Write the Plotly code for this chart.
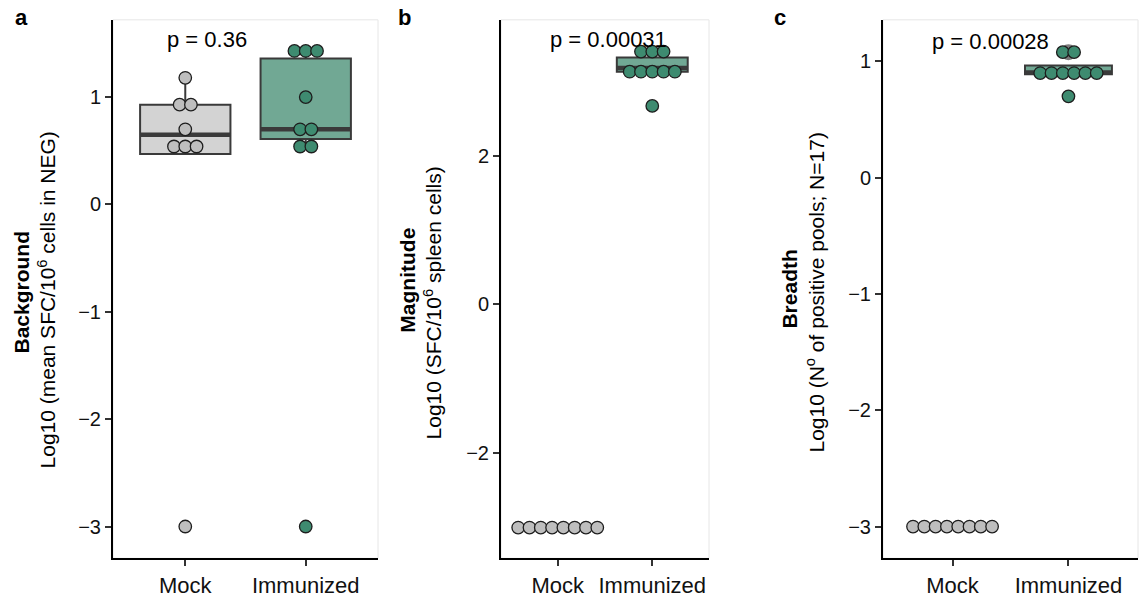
import plotly.graph_objects as go

W, H = 1139, 598
FONT = "Liberation Sans, Arial, Helvetica, sans-serif"

# ---------------- data ----------------
categories = ["Mock", "Immunized"]
cat_pos = [1, 2]

# Panel a: Background
a_mock = [1.18, 0.93, 0.93, 0.70, 0.54, 0.54, 0.54, -3.0]
a_imm = [1.43, 1.43, 1.43, 1.00, 0.70, 0.70, 0.54, 0.54, -3.0]
a_q1 = [0.47, 0.61]
a_med = [0.65, 0.70]
a_q3 = [0.93, 1.36]
a_lo = [0.47, 0.54]
a_hi = [1.18, 1.43]
a_out = [[], []]
a_p = "p = 0.36"

# Panel b: Magnitude
b_mock = [-3.0, -3.0, -3.0, -3.0, -3.0, -3.0, -3.0, -3.0]
b_imm = [3.40, 3.40, 3.40, 3.13, 3.13, 3.13, 3.13, 3.13, 2.67]
b_q1 = [-3.0, 3.13]
b_med = [-3.0, 3.18]
b_q3 = [-3.0, 3.32]
b_lo = [-3.0, 3.13]
b_hi = [-3.0, 3.40]
b_out = [[], []]
b_p = "p = 0.00031"

# Panel c: Breadth
c_mock = [-3.0, -3.0, -3.0, -3.0, -3.0, -3.0, -3.0, -3.0]
c_imm = [1.08, 1.08, 0.90, 0.90, 0.90, 0.90, 0.90, 0.90, 0.70]
c_q1 = [-3.0, 0.89]
c_med = [-3.0, 0.905]
c_q3 = [-3.0, 0.965]
c_lo = [-3.0, 0.89]
c_hi = [-3.0, 0.965]
c_out = [[], [1.08]]
c_p = "p = 0.00028"

y_ticks_a = [-3, -2, -1, 0, 1]
y_ticks_b = [-2, 0, 2]
y_ticks_c = [-3, -2, -1, 0, 1]

# ---------------- style ----------------
DOT_FILL = ["#BEBEBE", "#3E8B70"]
BOX_FILL = ["#D3D3D3", "#71A894"]
EDGE = "#3A3A3A"
BOX_W = 0.75
DOT_STEP_PX = 11.3
XR = [0.4, 2.6]
Y_TOP_PX, Y_BOT_PX = 20, 563
ydom = [1 - Y_BOT_PX / H, 1 - Y_TOP_PX / H]

panels = [
    dict(mock=a_mock, imm=a_imm, q1=a_q1, med=a_med, q3=a_q3, lo=a_lo, hi=a_hi, out=a_out,
         p=a_p, x0=113, x1=378, yr=[-3.296, 1.72], ticks=y_ticks_a, letter="a", lx=13,
         t1="Background", t2="Log10 (mean SFC/10<sup>6</sup> cells in NEG)",
         t1x=22, t1y=295, t2x=47, t2y=303, px=165, py=40),
    dict(mock=b_mock, imm=b_imm, q1=b_q1, med=b_med, q3=b_q3, lo=b_lo, hi=b_hi, out=b_out,
         p=b_p, x0=501, x1=709, yr=[-3.413, 3.827], ticks=y_ticks_b, letter="b", lx=396,
         t1="Magnitude", t2="Log10 (SFC/10<sup>6</sup> spleen cells)",
         t1x=408, t1y=283, t2x=433, t2y=306, px=548, py=40),
    dict(mock=c_mock, imm=c_imm, q1=c_q1, med=c_med, q3=c_q3, lo=c_lo, hi=c_hi, out=c_out,
         p=c_p, x0=883, x1=1138, yr=[-3.273, 1.358], ticks=y_ticks_c, letter="c", lx=772,
         t1="Breadth", t2="Log10 (N<sup>o</sup> of positive pools; N=17)",
         t1x=790, t1y=292, t2x=815, t2y=295, px=930, py=42),
]


def stack(values, center, step):
    xs, ys = [], []
    seen = []
    for v in values:
        if v not in seen:
            seen.append(v)
    for v in seen:
        n = values.count(v)
        for i in range(n):
            xs.append(center + (i - (n - 1) / 2) * step)
            ys.append(v)
    return xs, ys


fig = go.Figure()
annotations = []
shapes = []

for k, pn in enumerate(panels):
    sfx = "" if k == 0 else str(k + 1)
    xa, ya = "x" + sfx, "y" + sfx
    ppu = (pn["x1"] - pn["x0"]) / (XR[1] - XR[0])
    step = DOT_STEP_PX / ppu
    for j, c in enumerate(cat_pos):
        fig.add_trace(go.Box(
            x=[c], q1=[pn["q1"][j]], median=[pn["med"][j]], q3=[pn["q3"][j]],
            lowerfence=[pn["lo"][j]], upperfence=[pn["hi"][j]],
            width=BOX_W, whiskerwidth=0, boxpoints=False,
            fillcolor=BOX_FILL[j], line=dict(color=EDGE, width=2),
            xaxis=xa, yaxis=ya, showlegend=False, hoverinfo="skip"))
        fig.add_trace(go.Scatter(
            x=[c - BOX_W / 2, c + BOX_W / 2], y=[pn["med"][j]] * 2, mode="lines",
            line=dict(color=EDGE, width=4.5), xaxis=xa, yaxis=ya,
            showlegend=False, hoverinfo="skip"))
        if pn["out"][j]:
            fig.add_trace(go.Scatter(
                x=[c] * len(pn["out"][j]), y=pn["out"][j], mode="markers",
                marker=dict(size=16, color="rgba(90,90,90,0.8)", line=dict(width=0)),
                xaxis=xa, yaxis=ya, showlegend=False, hoverinfo="skip"))
    for j, vals in enumerate([pn["mock"], pn["imm"]]):
        xs, ys = stack(vals, cat_pos[j], step)
        fig.add_trace(go.Scatter(
            x=xs, y=ys, mode="markers",
            marker=dict(size=12.5, color=DOT_FILL[j], line=dict(color="#1E1E1E", width=1.3)),
            xaxis=xa, yaxis=ya, showlegend=False, hoverinfo="skip"))

    common_axis = dict(showline=True, linecolor="black", linewidth=2, ticks="outside",
                       ticklen=6, tickwidth=1.5, tickcolor="#333333", showgrid=False,
                       zeroline=False, fixedrange=True)
    fig.update_layout(**{
        "xaxis" + sfx: dict(domain=[pn["x0"] / W, pn["x1"] / W], range=XR,
                            tickvals=cat_pos, ticktext=categories, anchor=ya,
                            tickfont=dict(family=FONT, size=22, color="#111111"),
                            **common_axis),
        "yaxis" + sfx: dict(domain=ydom, range=pn["yr"], tickvals=pn["ticks"], anchor=xa,
                            tickfont=dict(family=FONT, size=20, color="#111111"),
                            **common_axis),
    })
    shapes.append(dict(type="rect", xref=xa + " domain", yref=ya + " domain",
                       x0=0, x1=1, y0=0, y1=1, line=dict(color="#E6E6E6", width=1),
                       layer="below"))
    annotations.append(dict(text=pn["p"], xref="paper", yref="paper",
                            x=pn["px"] / W, y=1 - pn["py"] / H, xanchor="left",
                            yanchor="middle", showarrow=False,
                            font=dict(family=FONT, size=22, color="black")))
    annotations.append(dict(text="<b>" + pn["letter"] + "</b>", xref="paper", yref="paper",
                            x=pn["lx"] / W, y=1 - 18 / H, xanchor="left",
                            yanchor="middle", showarrow=False,
                            font=dict(family=FONT, size=22, color="black")))
    annotations.append(dict(text="<b>" + pn["t1"] + "</b>", xref="paper", yref="paper",
                            x=pn["t1x"] / W, y=1 - pn["t1y"] / H, xanchor="center",
                            yanchor="middle", textangle=-90, showarrow=False,
                            font=dict(family=FONT, size=21, color="black")))
    annotations.append(dict(text=pn["t2"], xref="paper", yref="paper",
                            x=pn["t2x"] / W, y=1 - pn["t2y"] / H, xanchor="center",
                            yanchor="middle", textangle=-90, showarrow=False,
                            font=dict(family=FONT, size=21, color="black")))

fig.update_layout(width=W, height=H, margin=dict(l=0, r=0, t=0, b=0),
                  plot_bgcolor="white", paper_bgcolor="white",
                  annotations=annotations, shapes=shapes, showlegend=False)

fig.write_html("out.html")
